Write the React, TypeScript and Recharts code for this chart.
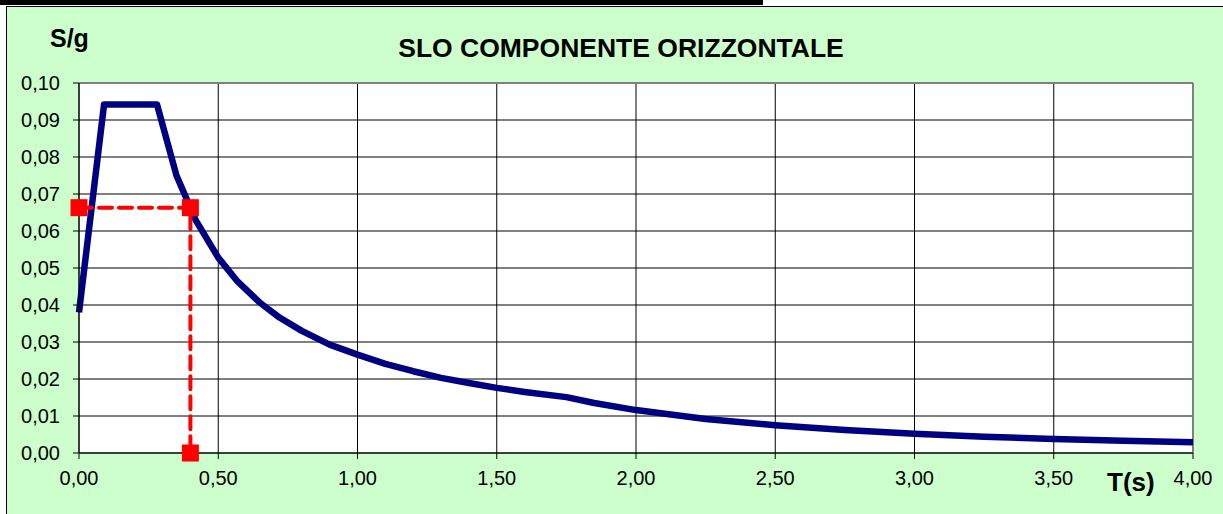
import React from "react";
import { LineChart, Line, XAxis, YAxis, CartesianGrid, ReferenceLine } from "recharts";

const periods = [0, 0.09, 0.28, 0.35, 0.42, 0.5, 0.57, 0.65, 0.72, 0.8, 0.9, 1.0, 1.1, 1.2, 1.3, 1.4, 1.5, 1.6, 1.75, 1.85, 2.0, 2.25, 2.5, 2.75, 3.0, 3.25, 3.5, 3.75, 4.0];
const spectrum = [0.038, 0.0942, 0.0942, 0.0750, 0.0628, 0.0528, 0.0463, 0.0406, 0.0366, 0.0330, 0.0293, 0.0266, 0.0241, 0.0221, 0.0203, 0.0189, 0.0176, 0.0165, 0.0151, 0.0135, 0.0116, 0.0092, 0.0075, 0.0062, 0.0052, 0.0044, 0.0038, 0.0033, 0.0029];

const refPeriods = [0, 0.4, 0.4];
const refValues = [0.0663, 0.0663, 0];

const xTicks = [0, 0.5, 1.0, 1.5, 2.0, 2.5, 3.0, 3.5, 4.0];
const yTicks = [0, 0.01, 0.02, 0.03, 0.04, 0.05, 0.06, 0.07, 0.08, 0.09, 0.1];

const spectrumData = periods.map((T, i) => ({ T, S: spectrum[i] }));
const refData = refPeriods.map((T, i) => ({ T, S: refValues[i] }));

const FONT = "'Liberation Sans', Arial, sans-serif";
const fmt = (v: number) => v.toFixed(2).replace(".", ",");

const SquareDot = (props: any) => {
  const { cx, cy, index } = props;
  if (cx == null || cy == null) return null;
  return <rect key={"sq" + index} x={cx - 8.5} y={cy - 8.5} width={17} height={17} fill="#FF0000" />;
};

export default function App() {
  return (
    <div style={{ position: "absolute", left: 0, top: 0, width: 1223, height: 514, overflow: "hidden", background: "#fff" }}>
      <div style={{ position: "absolute", left: 0, top: 0, width: 763, height: 5, background: "#000" }} />
      <div style={{ position: "absolute", left: 6, top: 6, width: 1240, height: 540, border: "1px solid #000", background: "#CCFFCC" }} />
      <div style={{ position: "absolute", left: 0, top: 0 }}>
        <LineChart width={1223} height={514} margin={{ top: 83, right: 30, left: 0, bottom: 0 }}>
          <CartesianGrid stroke="#000" strokeWidth={1} fill="#fff" horizontalValues={yTicks} verticalValues={xTicks} />
          <XAxis
            type="number"
            dataKey="T"
            domain={[0, 4]}
            ticks={xTicks}
            tickFormatter={fmt}
            height={61}
            stroke="#000"
            tickSize={6}
            tickMargin={12}
            tick={{ fill: "#000", fontSize: 20, fontFamily: FONT }}
            allowDuplicatedCategory={false}
          />
          <YAxis
            type="number"
            domain={[0, 0.1]}
            ticks={yTicks}
            tickFormatter={fmt}
            width={79}
            stroke="#000"
            tickSize={6}
            tickMargin={13}
            tick={{ fill: "#000", fontSize: 20, fontFamily: FONT }}
          />
          <ReferenceLine y={0.1} stroke="#808080" strokeWidth={2} />
          <ReferenceLine x={4} stroke="#808080" strokeWidth={2} />
          <Line
            data={spectrumData}
            dataKey="S"
            type="linear"
            stroke="#000080"
            strokeWidth={6.5}
            dot={false}
            activeDot={false}
            isAnimationActive={false}
            strokeLinejoin="round"
          />
          <Line
            data={refData}
            dataKey="S"
            type="linear"
            stroke="#FF0000"
            strokeWidth={4}
            strokeDasharray="13 7"
            strokeLinecap="round"
            dot={SquareDot}
            activeDot={false}
            isAnimationActive={false}
          />
        </LineChart>
      </div>
      <svg width={1223} height={514} style={{ position: "absolute", left: 0, top: 0, pointerEvents: "none" }}>
        <text x={621} y={57} textAnchor="middle" fontFamily={FONT} fontWeight="bold" fontSize={26.5} fill="#000">
          SLO COMPONENTE ORIZZONTALE
        </text>
        <text x={50} y={47} fontFamily={FONT} fontWeight="bold" fontSize={25} fill="#000">
          S/g
        </text>
        <text x={1107} y={491} fontFamily={FONT} fontWeight="bold" fontSize={26} fill="#000">
          T(s)
        </text>
      </svg>
    </div>
  );
}
